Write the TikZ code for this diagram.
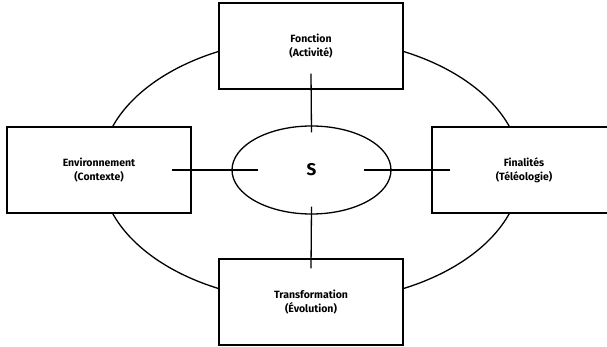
\documentclass[tikz,border=0pt]{standalone}
\usepackage{fontspec}
\setmainfont{Fira Sans}
\usetikzlibrary{shapes.geometric,calc}
\tikzset{
  bx/.style={rectangle, minimum width=184pt, minimum height=86pt, text centered, align=center, draw=black, fill=white, font=\bfseries\fontsize{10.5}{14}\selectfont},
  sy/.style={ellipse, minimum width=159pt, minimum height=88pt, draw=black, fill=white, font=\bfseries\fontsize{17}{20}\selectfont}
}

\begin{document}
\begin{tikzpicture}[x=1pt,y=-1pt,line width=1.3pt]
	\useasboundingbox (0,0) rectangle (607,347);
	\clip (0,0) rectangle (607,347);
	% ellipse round the four boxes
	\draw (311,170) ellipse [x radius=210, y radius=132];

	\node[bx] (fn) at (311,46) {Fonction\\(Activité)};
	\node[bx] (env) at (99,170) {Environnement\\(Contexte)};
	\node[bx] (fin) at (524,170) {Finalités\\(Téléologie)};
	\node[bx] (tr) at (311,302) {Transformation\\(Évolution)};
	\node[sy] (sys) at (311.5,170) {S};

	\draw ($(fn.south)+(0,-16)$) -- ($(sys.north)+(0,7)$);
	\draw ($(env.east)+(-20,0)$) -- ($(sys.west)+(27,0)$);
	\draw ($(sys.east)+(-28,0)$) -- ($(fin.west)+(19,0)$);
	\draw ($(sys.south)+(0,-8)$) -- ($(tr.north)+(0,10)$);
\end{tikzpicture}
\end{document}
